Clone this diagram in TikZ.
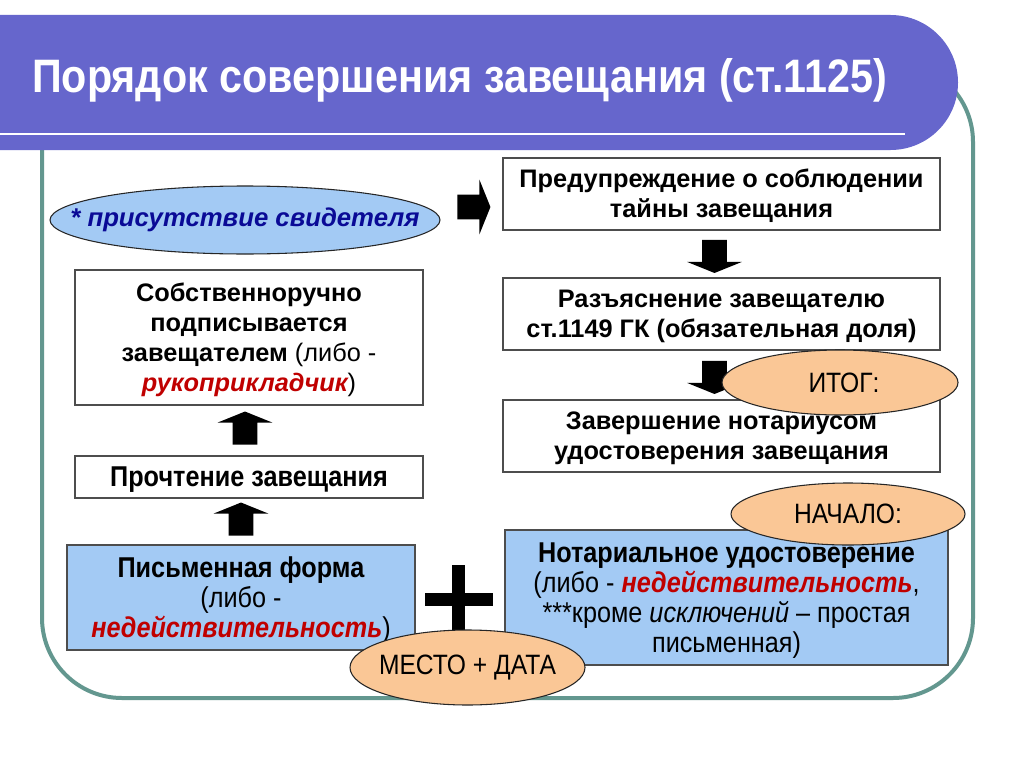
\documentclass[tikz,border=0pt]{standalone}
\usepackage{fontspec}
\setmainfont{Liberation Sans}
\newfontfamily\narrowsans{Liberation Sans}[FakeStretch=0.88]
\usetikzlibrary{positioning, shapes.geometric, shapes.arrows, calc}
\definecolor{BannerFill}{HTML}{6666CC}
\definecolor{FrameTeal}{HTML}{63978F}
\definecolor{SkyFill}{HTML}{A3CAF4}
\definecolor{PeachFill}{HTML}{FAC796}
\definecolor{RedInk}{HTML}{C00000}
\definecolor{WitnessInk}{HTML}{0A0A96}
\definecolor{BoxEdge}{HTML}{4D4D4D}
\newcommand{\topstrut}{\rule{0pt}{0.905em}}
\newcommand{\botstrut}{\rule[-0.212em]{0pt}{0.212em}}

\begin{document}
\begin{tikzpicture}[
    x=0.75pt, y=-0.75pt,
    font=\fontsize{19}{22.5}\selectfont,
    stepbox/.style={
      draw=BoxEdge,
      line width=0.9pt,
      fill=white,
      align=center,
      inner sep=0pt,
    },
    skybox/.style={
      stepbox,
      fill=SkyFill,
      font=\narrowsans\fontsize{21.5}{22.5}\selectfont,
    },
    oval/.style={
      ellipse,
      draw=black!85,
      line width=0.8pt,
      fill=PeachFill,
      inner sep=0pt,
    },
    ovaltext/.style={
      inner sep=0pt,
      font=\narrowsans\fontsize{21}{24}\selectfont,
    },
    blockarrow/.style={
      single arrow,
      fill=black,
      draw=none,
      inner xsep=0pt,
      inner ysep=9pt,
      minimum height=24.75pt,
      single arrow head extend=11.25pt,
      single arrow tip angle=136,
    },
  ]
    \useasboundingbox (0,0) rectangle (1024,767);
    \clip (0,0) rectangle (1024,767);
    \fill[white] (0,0) rectangle (1024,767);

    % frame and title banner
    \draw[FrameTeal, line width=3pt, rounded corners=60pt] (42,62) rectangle (973,698);
    \fill[BannerFill, rounded corners=50.6pt] (-80,15) rectangle (958,150);
    \coordinate (ruleL) at (0,134);
    \coordinate (ruleR) at (905,134);
    \draw[white, line width=2.2pt] (ruleL) -- (ruleR);
    \node[anchor=west, text=white, inner sep=0pt,
      font=\narrowsans\bfseries\fontsize{35.2}{40}\selectfont] (title) at (32,80)
      {Порядок совершения завещания (ст.1125)};

    % left column
    \node[oval, fill=SkyFill, minimum width=292.5pt, minimum height=51pt,
      label={[ovaltext, font=\bfseries\itshape\fontsize{19.3}{24}\selectfont, text=WitnessInk]center:{* присутствие свидетеля}}]
      (witness) at (245,220) {};
    \node[stepbox, minimum width=261pt, minimum height=101.25pt] (sign) at (249,337.5)
      {\topstrut\textbf{Собственноручно}\\ \textbf{подписывается}\\ \textbf{завещателем} (либо -\\
       {\color{RedInk}\bfseries\itshape рукоприкладчик})\botstrut};
    \node[stepbox, minimum width=261pt, minimum height=31.5pt,
      font=\narrowsans\bfseries\fontsize{21.5}{22.5}\selectfont] (read) at (249,477)
      {\topstrut\botstrut Прочтение завещания};
    \node[skybox, minimum width=261pt, minimum height=78.75pt] (written) at (241,597.5)
      {\topstrut\textbf{Письменная форма}\\ (либо -\\ {\color{RedInk}\bfseries\itshape недействительность})\botstrut};

    % right column
    \node[stepbox, minimum width=327.75pt, minimum height=54pt] (warn) at (721.5,194)
      {\topstrut\textbf{Предупреждение о соблюдении}\\ \textbf{тайны завещания}\botstrut};
    \node[stepbox, minimum width=327.75pt, minimum height=54pt] (explain) at (721.5,314)
      {\topstrut\textbf{Разъяснение завещателю}\\ \textbf{ст.1149 ГК (обязательная доля)}\botstrut};
    \node[stepbox, minimum width=327.75pt, minimum height=54pt] (finish) at (721.5,436)
      {\topstrut\textbf{Завершение нотариусом}\\ \textbf{удостоверения завещания}\botstrut};
    \node[skybox, minimum width=332.25pt, minimum height=101.25pt] (notary) at (726.5,597.5)
      {\topstrut\textbf{Нотариальное удостоверение}\\
       (либо - {\color{RedInk}\bfseries\itshape недействительность},\\
       ***кроме \textit{исключений} – простая\\ письменная)\botstrut};

    % block arrows
    \node[blockarrow, rotate=90] (upA) at ($(read.north)!0.5!(sign.south)+(-4,0)$) {};
    \node[blockarrow, rotate=90] (upB) at ($(written.north)!0.5!(read.south)+(-4,0)$) {};
    \node[blockarrow, rotate=-90] (downA) at ($(warn.south)!0.5!(explain.north)+(-7,0)$) {};
    \node[blockarrow, rotate=-90] (downB) at ($(explain.south)!0.5!(finish.north)+(-7,0)$) {};
    \node[blockarrow] (toWarn) at ($(witness.east)!0.5!(warn.west)$ |- warn.west) {};

    % plus sign
    \coordinate (plus) at (458.5,599.5);
    \fill[black] ($(plus)+(-34,-6.5)$) rectangle ($(plus)+(34,6.5)$);
    \fill[black] ($(plus)+(-6.5,-35)$) rectangle ($(plus)+(6.5,38)$);

    % labels
    \node[oval, minimum width=177pt, minimum height=48.75pt,
      label={[ovaltext, xshift=3pt]center:{ИТОГ:}}] (result) at (840,382.5) {};
    \node[oval, minimum width=175.5pt, minimum height=46.5pt,
      label={[ovaltext]center:{НАЧАЛО:}}] (start) at (848,514) {};
    \node[oval, minimum width=176.25pt, minimum height=56.25pt,
      label={[ovaltext]center:{МЕСТО + ДАТА}}] (place) at (467.5,667.5) {};
  \end{tikzpicture}
\end{document}
